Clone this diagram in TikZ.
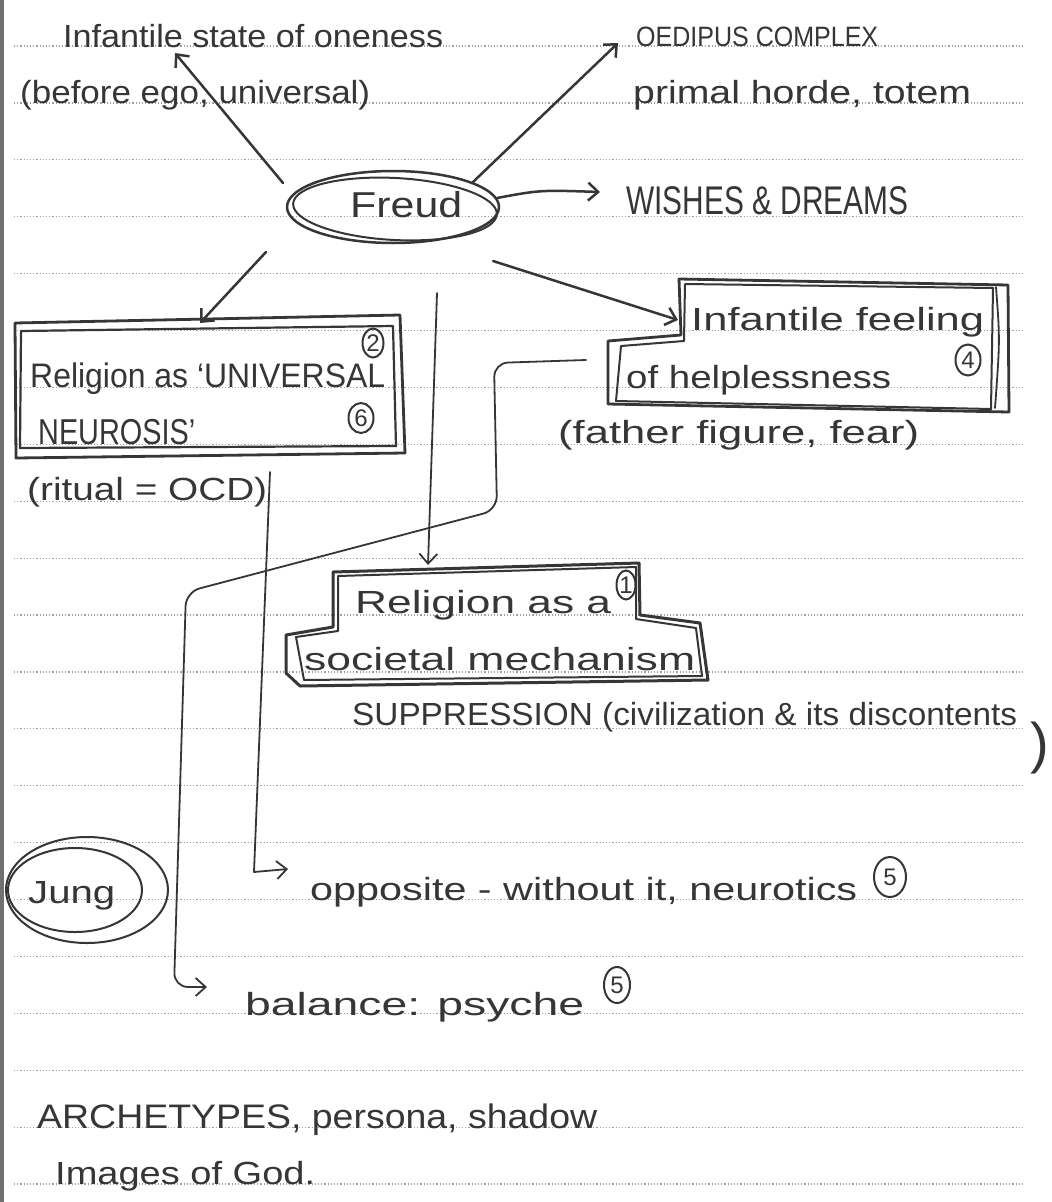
\documentclass[tikz,border=0pt]{standalone}
\usepackage{graphicx}
\usepackage{fontspec}
\setmainfont{Liberation Sans}
\usetikzlibrary{arrows.meta,shapes.geometric}
\definecolor{ink}{HTML}{363636}
\definecolor{rulegray}{HTML}{A0A0A0}
\definecolor{edgegray}{HTML}{707070}
\newcommand\hwfit[2]{\resizebox{#1pt}{\height}{#2}}
\tikzset{
  txt/.style={anchor=base west, inner sep=0pt, text=ink, font=\fontsize{32}{38}\selectfont},
  capstxt/.style={txt, font=\fontsize{30}{36}\selectfont},
  pen/.style={draw=ink, line width=2.5pt, line join=round, line cap=round},
  thinpen/.style={draw=ink, line width=1.8pt, line join=round, line cap=round},
  arr/.style={-{Straight Barb[length=10pt,width=18pt]}},
  circnum/.style={ellipse, draw=ink, line width=2pt, inner sep=0pt, text=ink, font=\fontsize{24}{26}\selectfont},
  ruled/.style={draw=rulegray, line width=1.2pt, dash pattern=on 1.2pt off 2pt}
}
\begin{document}
\begin{tikzpicture}[x=1pt,y=-1pt]
\fill[white] (0,0) rectangle (1052,1202);
\useasboundingbox (0,0) rectangle (1052,1202);
% paper edge
\fill[edgegray] (0,0) rectangle (4,1202);
% ruled lines
\foreach \k in {0,...,20}{
  \draw[ruled] (14,{46+56.9*\k}) -- (1024,{46+56.9*\k});
}
% ---------- texts ----------
\node[txt] (oneness) at (63,47) {\hwfit{380}{Infantile state of oneness}};
\node[txt] (before) at (20,103) {\hwfit{350}{(before ego, universal)}};
\node[capstxt, font=\fontsize{28}{32}\selectfont] (oedipus) at (636,46) {\hwfit{242}{OEDIPUS COMPLEX}};
\node[txt] (horde) at (633,103) {\hwfit{338}{primal horde, totem}};
\node[capstxt, font=\fontsize{40}{44}\selectfont] (wishes) at (626,214) {\hwfit{282}{WISHES \& DREAMS}};
\node[txt, font=\fontsize{36}{40}\selectfont] (freudtxt) at (350,217) {\hwfit{112}{Freud}};
\node[txt, font=\fontsize{34}{38}\selectfont] (univa) at (30,387) {\hwfit{355}{Religion as ‘UNIVERSAL}};
\node[txt, font=\fontsize{36}{40}\selectfont] (univb) at (38,444) {\hwfit{157}{NEUROSIS’}};
\node[txt] (ritual) at (27,500) {\hwfit{240}{(ritual = OCD)}};
\node[txt] (feela) at (691,330) {\hwfit{293}{Infantile feeling}};
\node[txt] (feelb) at (626,388) {\hwfit{265}{of helplessness}};
\node[txt] (father) at (558,443) {\hwfit{361}{(father figure, fear)}};
\node[txt] (soca) at (355,613) {\hwfit{256}{Religion as a}};
\node[txt] (socb) at (304,670) {\hwfit{391}{societal mechanism}};
\node[capstxt, font=\fontsize{32}{36}\selectfont] (supp) at (352,725) {\hwfit{665}{SUPPRESSION (civilization \& its discontents}};
\node[txt, font=\fontsize{56}{60}\selectfont] (rparen) at (1030,762) {)};
\node[txt] (jungtxt) at (28,903) {\hwfit{87}{Jung}};
\node[txt] (opp) at (310,900) {\hwfit{547}{opposite - without it, neurotics}};
\node[txt] (bal) at (245,1015) {\hwfit{339}{balance: psyche}};
\node[capstxt, font=\fontsize{34}{38}\selectfont] (arch) at (37,1128) {\hwfit{560}{ARCHETYPES, persona, shadow}};
\node[txt] (images) at (55,1184) {\hwfit{260}{Images of God.}};
% ---------- circled numbers ----------
\node[circnum, minimum width=21pt, minimum height=29pt] (n2) at (373,343) {2};
\node[circnum, minimum width=25pt, minimum height=30pt] (n6) at (361,418) {6};
\node[circnum, minimum width=25pt, minimum height=31pt] (n4) at (968,360) {4};
\node[circnum, minimum width=19pt, minimum height=29pt] (n1) at (626,585) {1};
\node[circnum, minimum width=32pt, minimum height=40pt] (n5a) at (890,877) {5};
\node[circnum, minimum width=26pt, minimum height=36pt] (n5b) at (617,985) {5};
% ---------- Freud ellipse ----------
\node[ellipse, pen, minimum width=212pt, minimum height=72pt] (freud) at (393,207) {};
\draw[pen, line width=2pt, rotate around={-3:(395,209)}] (395,209) ellipse [x radius=102pt, y radius=31pt];
% ---------- Jung ellipse ----------
\node[ellipse, pen, line width=2pt, minimum width=162pt, minimum height=106pt] (jung) at (87,890) {};
\draw[pen, line width=2pt] (75,890) ellipse [x radius=67pt, y radius=42pt];
% ---------- boxes ----------
% Religion as universal neurosis
\draw[pen, line width=2.8pt] (15,323) -- (400,315) -- (405,453) -- (16,458) -- cycle;
\draw[pen, line width=2.2pt] (21,331) -- (393,326) -- (396,446) -- (20,448) -- cycle;
% Infantile feeling of helplessness
\draw[pen, line width=2.8pt] (679,279) -- (1008,285) -- (1009,412) -- (608,404) -- (608,341) -- (681,335) -- cycle;
\draw[pen, line width=2pt] (685,284) -- (993,288) -- (991,409) -- (616,401) -- (621,346) -- (684,341) -- cycle;
\draw[pen, line width=1.8pt] (996,287) .. controls (1000,340) .. (995,408);
% Religion as a societal mechanism
\draw[pen, line width=3pt] (333,572) -- (639,563) -- (640,615) -- (700,623) -- (708,680) -- (300,686) -- (286,673) -- (286,635) -- (333,627) -- cycle;
\draw[pen, line width=2pt] (338,576) -- (636,567) -- (636,619) -- (696,628) -- (702,676) -- (304,680) -- (296,637) -- (338,631) -- cycle;
% ---------- connectors ----------
\coordinate (fr-ul) at (283,183);
\coordinate (fr-ur) at (473,182);
\coordinate (fr-r) at (497,198);
\coordinate (fr-ll) at (266,252);
\coordinate (fr-b) at (437,293);
\coordinate (fr-lr) at (493,261);
\coordinate (tip-one) at (175,53);
\coordinate (tip-oed) at (618,43);
\coordinate (tip-wish) at (600,192);
\coordinate (tip-univ) at (200,323);
\coordinate (tip-soc) at (428,565);
\coordinate (tip-feel) at (678,320);
\draw[pen, arr] (fr-ul) -- (tip-one);
\draw[pen, arr] (fr-ur) -- (tip-oed);
\draw[pen, arr] (fr-r) .. controls (540,190) .. (tip-wish);
\draw[pen, arr] (fr-ll) -- (tip-univ);
\draw[thinpen, arr] (fr-b) -- (tip-soc);
\draw[pen, arr] (fr-lr) -- (tip-feel);
% from helplessness box to balance: psyche
\coordinate (feel-l) at (586,360);
\coordinate (tip-bal) at (207,987);
\draw[thinpen, arr, rounded corners=14pt] (feel-l) -- (494,363) -- (497,510) -- (186,592) -- (174,987) -- (tip-bal);
% from ritual = OCD to opposite
\coordinate (rit-r) at (270,472);
\coordinate (tip-opp) at (288,869);
\draw[thinpen, arr] (rit-r) -- (254,872) -- (tip-opp);
\end{tikzpicture}
\end{document}
